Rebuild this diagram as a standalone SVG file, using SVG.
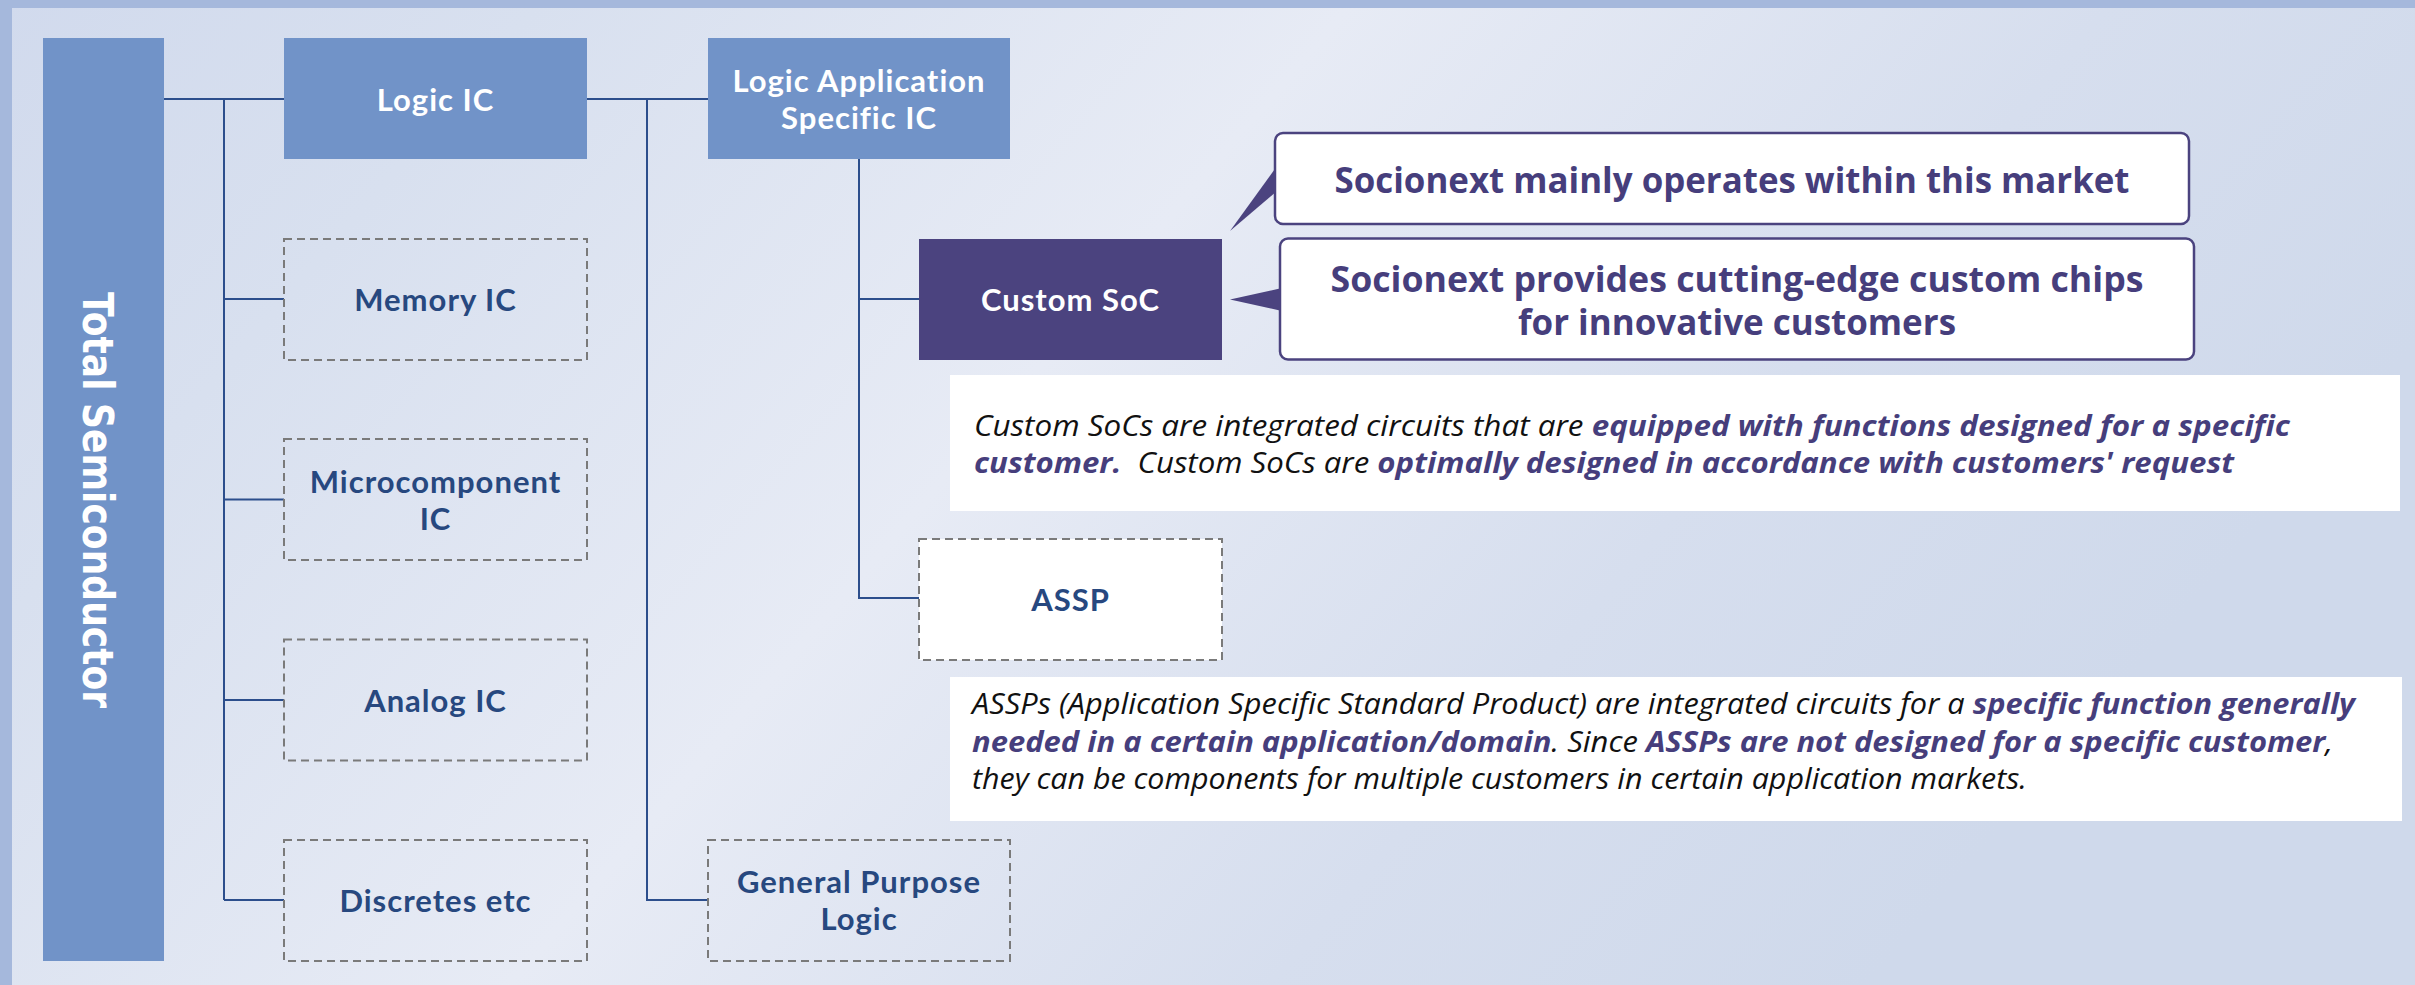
<svg xmlns="http://www.w3.org/2000/svg" width="2415" height="985" viewBox="0 0 2415 985">
<defs>
<linearGradient id="bg" x1="0" y1="0" x2="1" y2="0.35">
<stop offset="0" stop-color="#d1daed"/>
<stop offset="0.2" stop-color="#d8e0ef"/>
<stop offset="0.5" stop-color="#e7ebf5"/>
<stop offset="0.78" stop-color="#d6deee"/>
<stop offset="1" stop-color="#cfd9eb"/>
</linearGradient>
<style>
.solid{fill:#7193c8}
.dash{fill:none;stroke:#7a7a7a;stroke-width:2;stroke-dasharray:8 5}
.lbl{font-family:Lato,"Open Sans","Liberation Sans",sans-serif;font-weight:700;font-size:31px;letter-spacing:1px;text-anchor:middle}
.w{fill:#ffffff}
.b{fill:#27487f}
.conn{fill:none;stroke:#2c4e8c;stroke-width:2}
.call{fill:#ffffff;stroke:#4b437f;stroke-width:2.5}
.ptr{fill:#4b437f}
.ctxt{font-family:"Open Sans","Liberation Sans",sans-serif;font-weight:700;font-size:35px;fill:#463e7c;text-anchor:middle}
.desc{font-family:"Open Sans","Liberation Sans",sans-serif;font-style:italic;font-size:29px;fill:#111111}
.em{font-weight:700;fill:#463e7c}
</style>
</defs>
<rect x="0" y="0" width="2415" height="985" fill="url(#bg)"/>
<rect x="0" y="0" width="2415" height="8" fill="#a5b8dc"/>
<rect x="0" y="0" width="12" height="985" fill="#a5b8dc"/>

<g id="connectors">
<path class="conn" d="M164 99H284M224 99V900M224 299H284M224 499.5H284M224 700H284M224 900H284"/>
<path class="conn" d="M587 99H708M647 99V900H708"/>
<path class="conn" d="M859 159V598H919M859 299H919"/>
</g>

<g id="total-semiconductor">
<rect class="solid" x="43" y="38" width="121" height="923"/>
<text transform="translate(83,500) rotate(90)" x="0" y="0" font-family="'DejaVu Sans',Verdana,sans-serif" font-weight="700" font-size="42" fill="#ffffff" text-anchor="middle" textLength="416" lengthAdjust="spacingAndGlyphs">Total Semiconductor</text>
</g>

<g id="logic-ic">
<rect class="solid" x="284" y="38" width="303" height="121"/>
<text class="lbl w" x="435.5" y="111">Logic IC</text>
</g>

<g id="memory-ic">
<rect class="dash" x="284" y="239" width="303" height="121"/>
<text class="lbl b" x="435.5" y="311">Memory IC</text>
</g>

<g id="microcomponent-ic">
<rect class="dash" x="284" y="439" width="303" height="121"/>
<text class="lbl b"><tspan x="435.5" y="492.5">Microcomponent</tspan><tspan x="435.5" dy="37">IC</tspan></text>
</g>

<g id="analog-ic">
<rect class="dash" x="284" y="639.5" width="303" height="121"/>
<text class="lbl b" x="435.5" y="712">Analog IC</text>
</g>

<g id="discretes">
<rect class="dash" x="284" y="840" width="303" height="121"/>
<text class="lbl b" x="435.5" y="912">Discretes etc</text>
</g>

<g id="logic-asic">
<rect class="solid" x="708" y="38" width="302" height="121"/>
<text class="lbl w"><tspan x="859" y="91.5">Logic Application</tspan><tspan x="859" dy="37">Specific IC</tspan></text>
</g>

<g id="general-purpose-logic">
<rect class="dash" x="708" y="840" width="302" height="121"/>
<text class="lbl b"><tspan x="859" y="893">General Purpose</tspan><tspan x="859" dy="37">Logic</tspan></text>
</g>

<g id="custom-soc">
<rect x="919" y="239" width="303" height="121" fill="#4b437f"/>
<text class="lbl w" x="1070.5" y="311">Custom SoC</text>
</g>

<g id="assp">
<rect x="919" y="539" width="303" height="121" fill="#ffffff" stroke="#7a7a7a" stroke-width="2" stroke-dasharray="8 5"/>
<text class="lbl b" x="1070.5" y="611">ASSP</text>
</g>

<g id="callout-market">
<polygon class="ptr" points="1277,166 1230,231 1277,191"/>
<rect class="call" x="1275" y="133" width="914" height="91" rx="8"/>
<text class="ctxt" x="1732" y="192.5" textLength="795" lengthAdjust="spacingAndGlyphs">Socionext mainly operates within this market</text>
</g>

<g id="callout-custom">
<polygon class="ptr" points="1282,288 1230,299.5 1282,311"/>
<rect class="call" x="1280" y="238.5" width="914" height="121" rx="8"/>
<text class="ctxt"><tspan x="1737" y="291.5" textLength="813" lengthAdjust="spacingAndGlyphs">Socionext provides cutting-edge custom chips</tspan><tspan x="1737" dy="43.5" textLength="438" lengthAdjust="spacingAndGlyphs">for innovative customers</tspan></text>
</g>

<g id="custom-soc-description">
<rect x="950" y="375" width="1450" height="136" fill="#ffffff"/>
<text class="desc" x="974" y="436" textLength="1316" lengthAdjust="spacingAndGlyphs">Custom SoCs are integrated circuits that are <tspan class="em">equipped with functions designed for a specific</tspan></text>
<text class="desc" x="974" y="473" xml:space="preserve" textLength="1260" lengthAdjust="spacingAndGlyphs"><tspan class="em">customer.</tspan>  Custom SoCs are <tspan class="em">optimally designed in accordance with customers' request</tspan></text>
</g>

<g id="assp-description">
<rect x="950" y="677" width="1452" height="144" fill="#ffffff"/>
<text class="desc" x="972" y="714" textLength="1383" lengthAdjust="spacingAndGlyphs">ASSPs (Application Specific Standard Product) are integrated circuits for a <tspan class="em">specific function generally</tspan></text>
<text class="desc" x="972" y="751.5" textLength="1361" lengthAdjust="spacingAndGlyphs"><tspan class="em">needed in a certain application/domain</tspan>. Since <tspan class="em">ASSPs are not designed for a specific customer</tspan>,</text>
<text class="desc" x="972" y="789" textLength="1055" lengthAdjust="spacingAndGlyphs">they can be components for multiple customers in certain application markets.</text>
</g>
</svg>
